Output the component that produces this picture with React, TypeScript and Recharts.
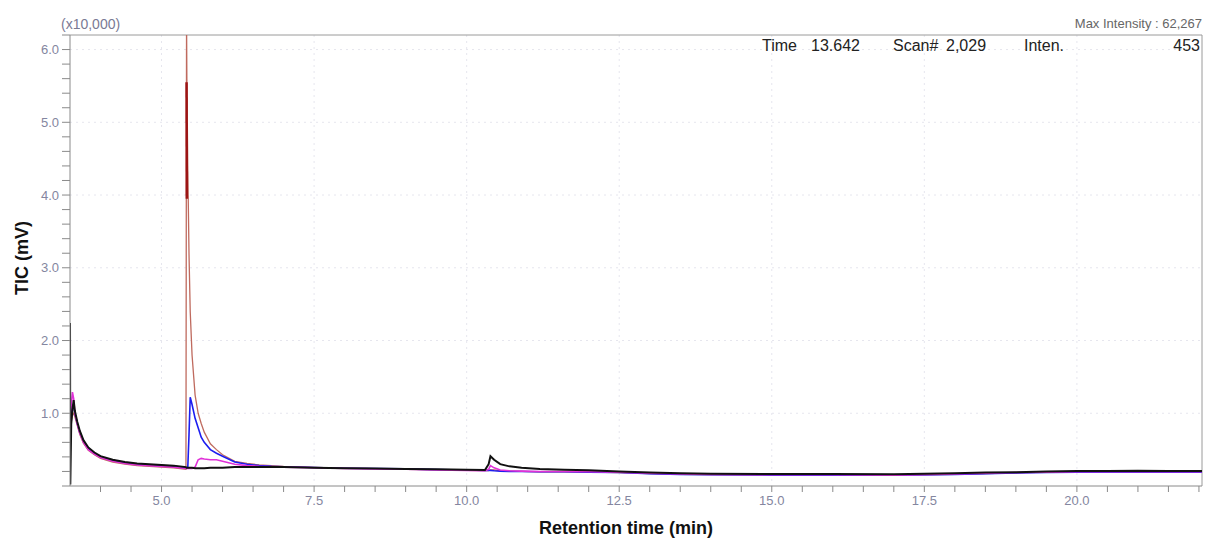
import React from 'react';
import { LineChart, Line, XAxis, YAxis, CartesianGrid, ReferenceLine } from 'recharts';

// Retention time (min)
const times = [
  3.5, 3.505, 3.52, 3.54, 3.56, 3.58, 3.62, 3.66, 3.72, 3.8,
  3.9, 4.0, 4.2, 4.4, 4.6, 4.8, 5.0, 5.2, 5.4, 5.41,
  5.415, 5.43, 5.45, 5.47, 5.5, 5.55, 5.6, 5.65, 5.7, 5.8,
  5.9, 6.0, 6.2, 6.4, 6.6, 6.8, 7.0, 7.5, 8.0, 8.5,
  9.0, 9.5, 10.0, 10.3, 10.36, 10.39, 10.45, 10.55, 10.7, 10.9,
  11.2, 11.6, 12.0, 12.5, 13.0, 13.5, 14.0, 15.0, 16.0, 17.0,
  18.0, 18.5, 19.0, 19.5, 20.0, 20.5, 21.0, 21.5, 22.05,
];

// TIC (x10,000 mV)
const blackTIC = [
  2.24, 0.02, 0.85, 1.05, 1.18, 1.03, 0.88, 0.76, 0.63, 0.53,
  0.46, 0.41, 0.36, 0.33, 0.31, 0.3, 0.29, 0.28, 0.26, 0.25,
  0.25, 0.25, 0.25, 0.25, 0.25, 0.245, 0.245, 0.245, 0.245, 0.25,
  0.25, 0.25, 0.26, 0.26, 0.26, 0.26, 0.26, 0.25, 0.245, 0.24,
  0.235, 0.23, 0.225, 0.22, 0.3, 0.41, 0.36, 0.3, 0.27, 0.25,
  0.235, 0.225, 0.215, 0.2, 0.185, 0.175, 0.17, 0.165, 0.165, 0.16,
  0.175, 0.185, 0.19, 0.2, 0.205, 0.205, 0.21, 0.205, 0.205,
];

const magentaTIC = [
  0.6, 0.95, 1.1, 1.29, 1.2, 1.0, 0.85, 0.73, 0.6, 0.5,
  0.44, 0.39, 0.34, 0.31, 0.29, 0.28, 0.27, 0.26, 0.24, 0.24,
  0.24, 0.24, 0.24, 0.24, 0.24, 0.26, 0.36, 0.38, 0.37, 0.36,
  0.36, 0.34, 0.3, 0.28, 0.27, 0.265, 0.26, 0.25, 0.24, 0.235,
  0.23, 0.22, 0.215, 0.21, 0.23, 0.28, 0.25, 0.22, 0.21, 0.205,
  0.2, 0.2, 0.195, 0.19, 0.175, 0.165, 0.16, 0.155, 0.155, 0.15,
  0.165, 0.175, 0.185, 0.19, 0.195, 0.195, 0.195, 0.195, 0.195,
];

const blueTIC = [
  0.55, 0.8, 0.95, 1.1, 1.12, 1.0, 0.86, 0.74, 0.62, 0.52,
  0.45, 0.4, 0.35, 0.32, 0.3, 0.29, 0.28, 0.27, 0.25, 0.25,
  0.25, 0.25, 0.7, 1.22, 1.12, 0.93, 0.8, 0.67, 0.6, 0.5,
  0.45, 0.41, 0.33, 0.3, 0.28, 0.27, 0.265, 0.255, 0.245, 0.24,
  0.235, 0.225, 0.22, 0.215, 0.215, 0.215, 0.21, 0.205, 0.2, 0.2,
  0.195, 0.195, 0.19, 0.185, 0.17, 0.16, 0.155, 0.15, 0.15, 0.15,
  0.16, 0.17, 0.18, 0.185, 0.19, 0.19, 0.19, 0.19, 0.19,
];

const brownTIC = [
  0.5, 0.7, 0.88, 0.97, 1.0, 0.95, 0.83, 0.71, 0.59, 0.49,
  0.43, 0.38, 0.33, 0.3, 0.28, 0.27, 0.26, 0.25, 0.23, 6.4,
  5.6, 4.4, 3.2, 2.4, 1.8, 1.25, 1.0, 0.86, 0.74, 0.58,
  0.5, 0.43, 0.34, 0.31, 0.29, 0.28, 0.27, 0.255, 0.245, 0.24,
  0.23, 0.225, 0.215, 0.21, 0.21, 0.22, 0.22, 0.21, 0.205, 0.2,
  0.195, 0.195, 0.19, 0.185, 0.17, 0.16, 0.155, 0.15, 0.15, 0.15,
  0.16, 0.17, 0.18, 0.19, 0.195, 0.195, 0.195, 0.195, 0.195,
];

// dark red segment on the main peak (index 19..20)
const darkRedTIC = times.map((_, i) => (i === 19 ? 5.55 : i === 20 ? 3.95 : null));

const yTicks = [0, 0.2, 0.4, 0.6, 0.8, 1, 1.2, 1.4, 1.6, 1.8, 2, 2.2, 2.4, 2.6, 2.8, 3, 3.2, 3.4, 3.6, 3.8, 4, 4.2, 4.4, 4.6, 4.8, 5, 5.2, 5.4, 5.6, 5.8, 6, 6.2];
const yLabelValues = [1, 2, 3, 4, 5, 6];
const xTicks = [4, 4.5, 5, 5.5, 6, 6.5, 7, 7.5, 8, 8.5, 9, 9.5, 10, 10.5, 11, 11.5, 12, 12.5, 13, 13.5, 14, 14.5, 15, 15.5, 16, 16.5, 17, 17.5, 18, 18.5, 19, 19.5, 20, 20.5, 21, 21.5, 22];
const xLabelValues = [5, 7.5, 10, 12.5, 15, 17.5, 20];

const data = times.map((t, i) => ({
  t,
  black: blackTIC[i],
  magenta: magentaTIC[i],
  blue: blueTIC[i],
  brown: brownTIC[i],
  darkred: darkRedTIC[i],
}));

const near = (v: number, arr: number[]) => arr.some((a) => Math.abs(a - v) < 1e-6);

const FONT = '"Liberation Sans", Arial, sans-serif';
const tickStyle = { fontSize: 13, fill: '#8486a0', fontFamily: FONT };
const head = { position: 'absolute' as const, top: 37, fontSize: 16, color: '#222', whiteSpace: 'nowrap' as const };

export default function App() {
  return (
    <div style={{ position: 'absolute', left: 0, top: 0, width: 1205, height: 540, background: '#fff', fontFamily: FONT }}>
      <LineChart width={1205} height={540} data={data} margin={{ top: 35, right: 3, left: 0, bottom: 0 }}>
        <CartesianGrid
          horizontalValues={yLabelValues}
          verticalValues={xLabelValues}
          stroke="#e6e6ee"
          strokeDasharray="2 4"
        />
        <XAxis
          type="number"
          dataKey="t"
          domain={[3.5, 22.05]}
          allowDataOverflow
          ticks={xTicks}
          interval={0}
          tickFormatter={(v: number) => (near(v, xLabelValues) ? v.toFixed(1) : '')}
          tickSize={6}
          tickMargin={4}
          height={54}
          stroke="#8a8a8a"
          tick={tickStyle}
        />
        <YAxis
          type="number"
          domain={[0, 6.2]}
          allowDataOverflow
          ticks={yTicks}
          interval={0}
          tickFormatter={(v: number) => (near(v, yLabelValues) ? v.toFixed(1) : '')}
          tickSize={8}
          tickMargin={3}
          width={70}
          stroke="#8a8a8a"
          tick={tickStyle}
        />
        <ReferenceLine y={6.2} stroke="#9a9a9a" ifOverflow="visible" />
        <ReferenceLine x={22.05} stroke="#9a9a9a" ifOverflow="visible" />
        <Line type="linear" dataKey="brown" stroke="#bf6a5e" strokeWidth={1.3} dot={false} isAnimationActive={false} />
        <Line type="linear" dataKey="blue" stroke="#1d1df0" strokeWidth={1.6} dot={false} isAnimationActive={false} />
        <Line type="linear" dataKey="magenta" stroke="#e030d8" strokeWidth={1.6} dot={false} isAnimationActive={false} />
        <Line type="linear" dataKey="black" stroke="#111111" strokeWidth={2} dot={false} isAnimationActive={false} />
        <Line type="linear" dataKey="darkred" stroke="#9c1414" strokeWidth={2.5} dot={false} isAnimationActive={false} />
      </LineChart>

      <div style={{ position: 'absolute', left: 61, top: 16, fontSize: 14, color: '#7a7a94', whiteSpace: 'nowrap' }}>(x10,000)</div>
      <div style={{ position: 'absolute', right: 3, top: 16, fontSize: 13, color: '#666', whiteSpace: 'nowrap' }}>Max Intensity :  62,267</div>

      <div style={{ ...head, left: 762 }}>Time</div>
      <div style={{ ...head, left: 811 }}>13.642</div>
      <div style={{ ...head, left: 893 }}>Scan#</div>
      <div style={{ ...head, left: 946 }}>2,029</div>
      <div style={{ ...head, left: 1024 }}>Inten.</div>
      <div style={{ ...head, right: 5 }}>453</div>

      <div
        style={{
          position: 'absolute',
          left: 22,
          top: 258,
          transform: 'translate(-50%, -50%) rotate(-90deg)',
          fontSize: 18,
          fontWeight: 'bold',
          color: '#111',
          whiteSpace: 'nowrap',
        }}
      >
        TIC (mV)
      </div>
      <div
        style={{
          position: 'absolute',
          left: 626,
          top: 528,
          transform: 'translate(-50%, -50%)',
          fontSize: 18,
          fontWeight: 'bold',
          color: '#111',
          whiteSpace: 'nowrap',
        }}
      >
        Retention time (min)
      </div>
    </div>
  );
}
